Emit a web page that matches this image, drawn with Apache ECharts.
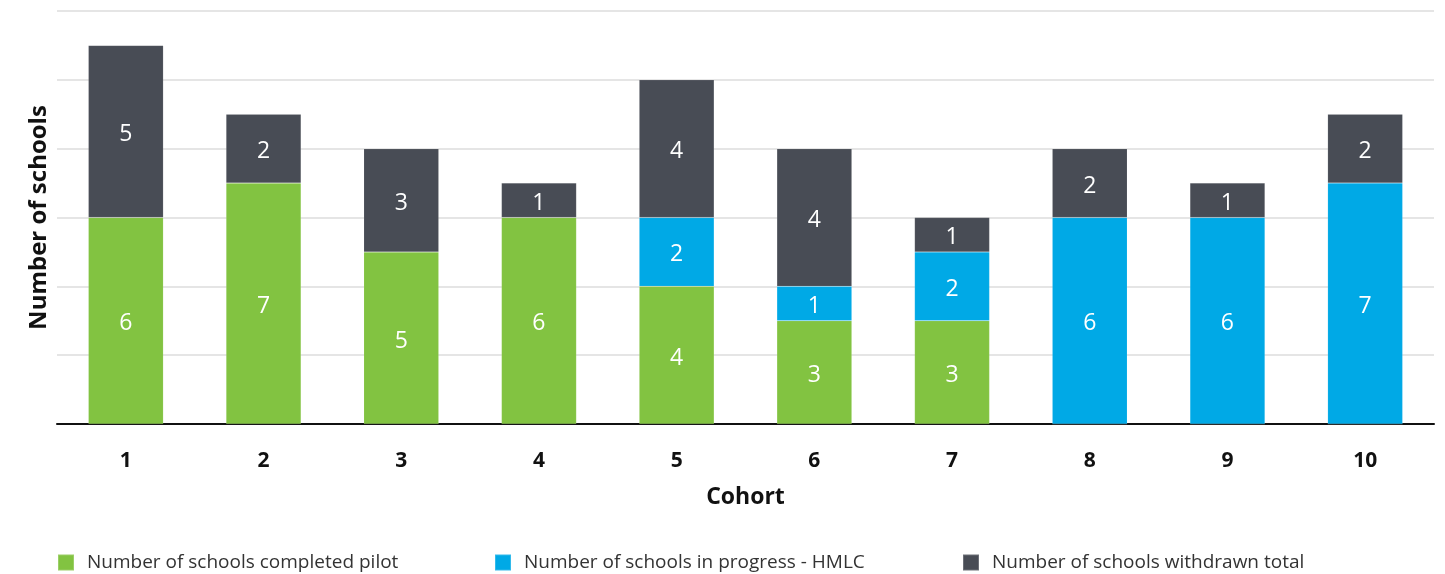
<!DOCTYPE html>
<html>
<head>
<meta charset="utf-8">
<script src="https://cdn.jsdelivr.net/npm/echarts@6/dist/echarts.min.js"></script>
<style>
html,body{margin:0;padding:0;background:#fff;}
#c{width:1445px;height:574px;}
</style>
</head>
<body>
<div id="c"></div>
<script>
var categories = ['1','2','3','4','5','6','7','8','9','10'];
var completed = [6,7,5,6,4,3,3,0,0,0];
var inProgress = [0,0,0,0,2,1,2,6,6,7];
var withdrawn = [5,2,3,1,4,4,1,2,1,2];
var seriesNames = ['Number of schools completed pilot','Number of schools in progress - HMLC','Number of schools withdrawn total'];
var colors = ['#82c341','#00a9e6','#484c55'];

var font = '"Open Sans", "Noto Sans", sans-serif';
var chart = echarts.init(document.getElementById('c'));
function mk(name, data, color){
  return {
    name: name, type: 'bar', stack: 'total', data: data, barWidth: 75,
    itemStyle: {color: color, borderColor: 'rgba(255,255,255,0.2)', borderWidth: 0.5},
    label: {show: true, position: 'inside', offset: [0, 3], color: '#fff', fontSize: 23, fontFamily: font,
      formatter: function(p){ return p.value ? String(p.value) : ''; }},
    emphasis: {disabled: true}
  };
}
var legendBase = {bottom: 2, padding: 0, itemWidth: 16, itemHeight: 16, itemGap: 14, icon: 'rect',
  textStyle: {fontSize: 19, color: '#333', fontFamily: font, padding: [0, 0, 0, 8]}, selectedMode: false};
chart.setOption({
  animation: false,
  textStyle: {fontFamily: font},
  grid: {left: 57, right: 11, top: 11, bottom: 150},
  legend: [
    Object.assign({}, legendBase, {left: 57, data: [seriesNames[0]]}),
    Object.assign({}, legendBase, {left: 494, data: [seriesNames[1]]}),
    Object.assign({}, legendBase, {left: 962, data: [seriesNames[2]]})
  ],
  xAxis: {
    type: 'category', data: categories,
    name: 'Cohort', nameLocation: 'middle', nameGap: 62,
    nameTextStyle: {fontSize: 23, fontWeight: 'bold', color: '#111', fontFamily: font},
    axisLine: {lineStyle: {color: '#111', width: 2}},
    axisTick: {show: false},
    axisLabel: {fontSize: 21, fontWeight: 'bold', color: '#111', margin: 27, fontFamily: font}
  },
  yAxis: {
    type: 'value', min: 0, max: 12, interval: 2,
    name: 'Number of schools', nameLocation: 'middle', nameGap: 6,
    nameTextStyle: {fontSize: 24, fontWeight: 'bold', color: '#111', fontFamily: font},
    axisLabel: {show: false}, axisLine: {show: false}, axisTick: {show: false},
    splitLine: {lineStyle: {color: '#dddddd', width: 1.5}}
  },
  series: [
    mk(seriesNames[0], completed, colors[0]),
    mk(seriesNames[1], inProgress, colors[1]),
    mk(seriesNames[2], withdrawn, colors[2])
  ]
});
</script>
</body>
</html>
